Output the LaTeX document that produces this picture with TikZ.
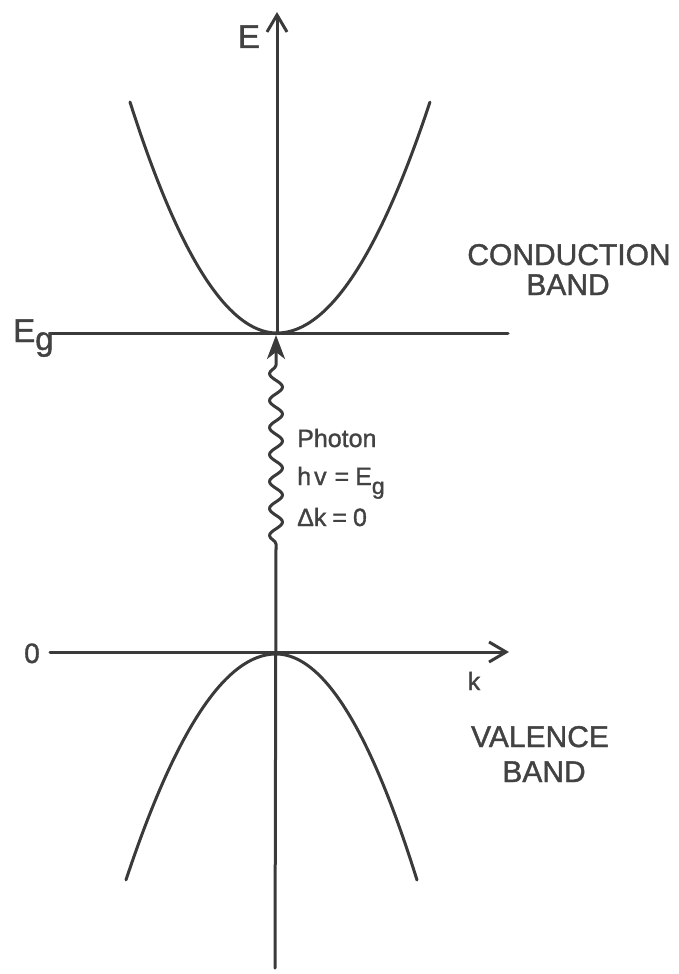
\documentclass[tikz,border=0pt]{standalone}
\usepackage{fontspec}
\setmainfont{Liberation Sans}[FakeBold=1.3]
\usetikzlibrary{arrows.meta,decorations.pathmorphing}
\definecolor{lc}{HTML}{3A3A3A}
\definecolor{tc}{HTML}{424242}
\begin{document}
\begin{tikzpicture}[x=1pt,y=-1pt,
  ln/.style={line width=3pt, draw=lc, line cap=round, line join=round},
  axarrow/.style={-{Straight Barb[length=17pt,width=20pt,line width=3pt]}},
  bigtxt/.style={text=tc, inner sep=0pt, font=\fontsize{30}{30}\selectfont, anchor=base},
  smalltxt/.style={text=tc, inner sep=0pt, font=\fontsize{25}{25}\selectfont, anchor=base west},
  bandtxt/.style={text=tc, inner sep=0pt, font=\fontsize{30}{30}\selectfont, anchor=base}]
\useasboundingbox (0,0) rectangle (678,974);
% coordinates
\coordinate (atop) at (277,12);
\coordinate (cb) at (277,333);
\coordinate (wtop) at (276,335);
\coordinate (wbot) at (276,548);
\coordinate (vb) at (276,652);
\coordinate (abot) at (275,968);
\coordinate (egl) at (50,333);
\coordinate (egr) at (508,333);
\coordinate (zl) at (50,652);
\coordinate (zr) at (509,652);
% axes
\draw[ln,axarrow] (cb) -- (atop);
\draw[ln] (abot) -- (wbot);
\draw[ln] (egl) -- (egr);
\draw[ln,axarrow] (zl) -- (zr);
% photon
\draw[ln,-{Stealth[length=24pt,width=18pt,inset=7pt]},decorate,
  decoration={snake,amplitude=6.5pt,segment length=27pt,pre length=4pt,post length=24pt}]
  (wbot) -- (wtop);
% conduction band
\draw[ln] plot[domain=-1.47:0,samples=60] ({277+100*\x},{333-106.9*\x*\x});
\draw[ln] plot[domain=0:1.53,samples=60] ({277+100*\x},{333-98.7*\x*\x});
% valence band
\draw[ln] plot[domain=-1.50:0,samples=60] ({276+100*\x},{654+100.4*\x*\x});
\draw[ln] plot[domain=0:1.41,samples=60] ({276+100*\x},{654+113.7*\x*\x});
% labels
\node[bigtxt,font=\fontsize{33}{33}\selectfont] (elab) at (249,48) {E};
\node[bigtxt,font=\fontsize{33}{33}\selectfont,anchor=base west] (eglab) at (13,342) {E\raisebox{-8pt}{g}};
\node[bigtxt,font=\fontsize{28}{28}\selectfont] (zlab) at (32,663) {0};
\node[bigtxt,font=\fontsize{25}{25}\selectfont] (klab) at (474,690) {k};
\node[smalltxt] (ph1) at (297,447) {Photon};
\node[smalltxt] (ph2) at (297,485) {h\hspace{3pt}v\hspace{8pt}=\hspace{6pt}E\raisebox{-9pt}{\fontsize{23}{23}\selectfont g}};
\node[smalltxt] (ph3) at (297,526) {Δk\hspace{6pt}=\hspace{6pt}0};
\node[bandtxt] (cb1) at (569,265) {CONDUCTION};
\node[bandtxt] (cb2) at (568,295) {BAND};
\node[bandtxt] (vb1) at (540,747) {VALENCE};
\node[bandtxt] (vb2) at (544,782) {BAND};
\end{tikzpicture}
\end{document}
